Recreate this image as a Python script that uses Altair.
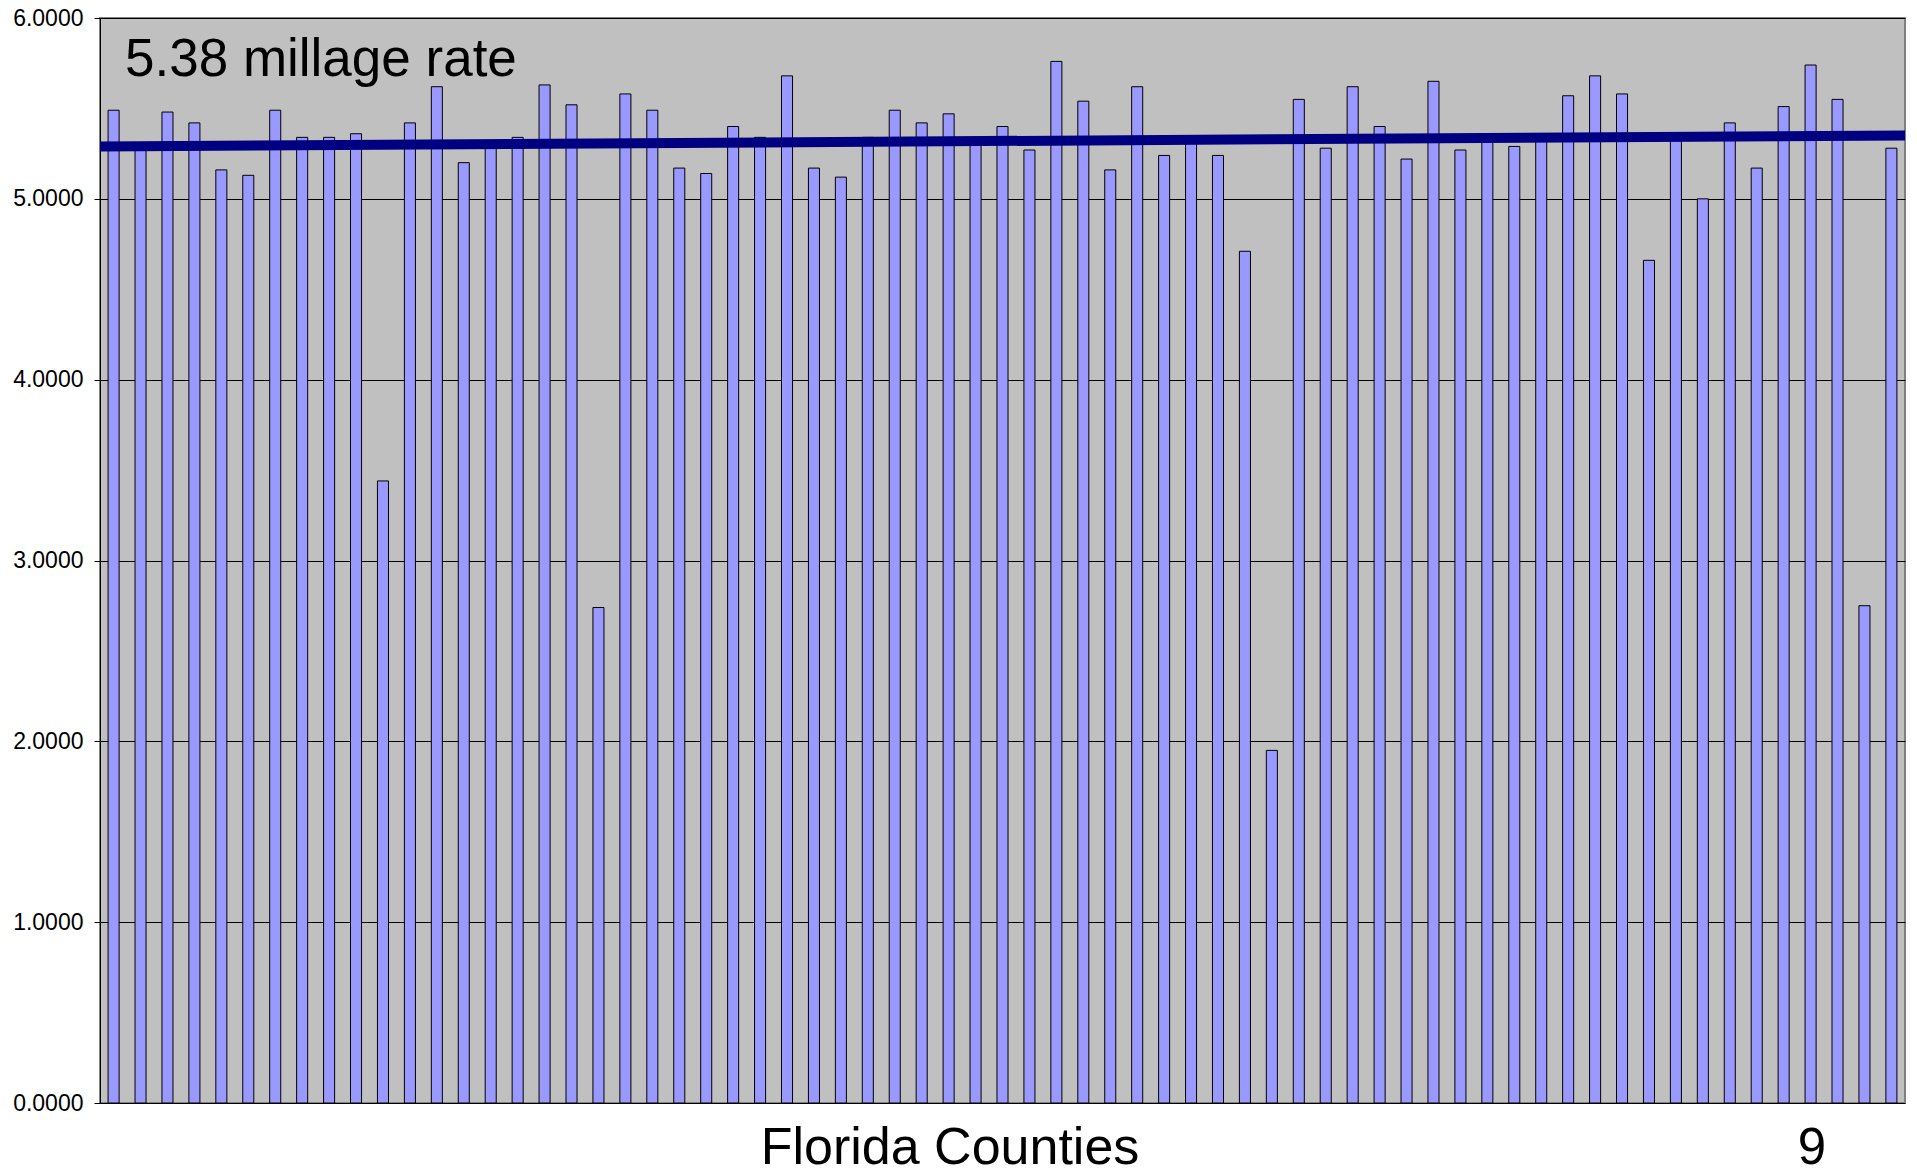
import altair as alt
import pandas as pd

# Millage rate per Florida county (counties numbered 1-67)
county_numbers = list(range(1, 68))
millage_rates = [
    5.49, 5.29, 5.48, 5.42, 5.16, 5.13, 5.49, 5.34, 5.34, 5.36,
    3.44, 5.42, 5.62, 5.20, 5.30, 5.34, 5.63, 5.52, 2.74, 5.58,
    5.49, 5.17, 5.14, 5.40, 5.34, 5.68, 5.17, 5.12, 5.34, 5.49,
    5.42, 5.47, 5.32, 5.40, 5.27, 5.76, 5.54, 5.16, 5.62, 5.24,
    5.32, 5.24, 4.71, 1.95, 5.55, 5.28, 5.62, 5.40, 5.22, 5.65,
    5.27, 5.32, 5.29, 5.36, 5.57, 5.68, 5.58, 4.66, 5.33, 5.00,
    5.42, 5.17, 5.51, 5.74, 5.55, 2.75, 5.28,
]

# Reference rate line across all counties (left end, right end)
rate_line_start = [5.29]
rate_line_end = [5.35]

y_ticks = [0, 1, 2, 3, 4, 5, 6]
rate_label = "5.38 millage rate"
x_title = "Florida Counties"
page_number = "9"

W, H = 1805, 1085
FONT = "Liberation Sans"

bars_df = pd.DataFrame({"county": county_numbers, "rate": millage_rates})
line_df = pd.DataFrame({"start": rate_line_start, "end": rate_line_end})

y_scale = alt.Scale(domain=[0, 6], nice=False, zero=True)

bars = alt.Chart(bars_df).mark_bar(
    fill="#9999FF", stroke="#000000", strokeWidth=1
).encode(
    x=alt.X(
        "county:O",
        scale=alt.Scale(paddingInner=0.59, paddingOuter=0.3),
        axis=None,
    ),
    y=alt.Y(
        "rate:Q",
        scale=y_scale,
        axis=alt.Axis(
            values=y_ticks,
            format=".4f",
            title=None,
            labelFont=FONT,
            labelFontSize=23,
            labelColor="#000000",
            labelPadding=11,
            tickColor="#000000",
            tickSize=6,
            tickWidth=1,
            domainColor="#000000",
            domainWidth=1,
            grid=True,
            gridColor="#000000",
            gridWidth=1,
            gridOpacity=1,
        ),
    ),
)

rate_line = alt.Chart(line_df).mark_rule(
    color="#000080", strokeWidth=10, strokeCap="butt"
).encode(
    x=alt.value(0),
    x2=alt.value(W),
    y=alt.Y("start:Q", scale=y_scale),
    y2="end:Q",
)

label_text = alt.Chart(pd.DataFrame({"t": [rate_label]})).mark_text(
    font=FONT, fontSize=53, color="#000000", align="left", baseline="alphabetic"
).encode(x=alt.value(25), y=alt.value(58), text="t:N")

title_text = alt.Chart(pd.DataFrame({"t": [x_title]})).mark_text(
    font=FONT, fontSize=52, color="#000000", align="center", baseline="alphabetic"
).encode(x=alt.value(850), y=alt.value(1146), text="t:N")

page_text = alt.Chart(pd.DataFrame({"t": [page_number]})).mark_text(
    font=FONT, fontSize=51, color="#000000", align="center", baseline="alphabetic"
).encode(x=alt.value(1712), y=alt.value(1146), text="t:N")

chart = alt.layer(bars, rate_line, label_text, title_text, page_text).properties(
    width=W,
    height=H,
    autosize=alt.AutoSizeParams(type="none"),
    padding={"left": 100, "top": 18, "right": 12, "bottom": 71},
    background="#FFFFFF",
).configure_view(
    fill="#C0C0C0", stroke="#808080", strokeWidth=2
)

chart.save("out.html", embed_options={"renderer": "svg", "actions": False})
